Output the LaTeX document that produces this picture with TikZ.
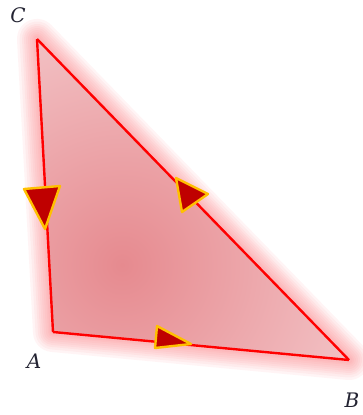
\documentclass[tikz,border=0pt]{standalone}
\usepackage{fontspec}
\newfontfamily\lblfont{DejaVu Serif}
\usetikzlibrary{calc}
\begin{document}
\begin{tikzpicture}[x=1pt,y=-1pt,
  edge/.style={draw=red,line width=2.4pt,line join=miter},
  glow/.style={draw={rgb,255:red,250;green,120;blue,125},line join=round,line cap=round,opacity=0.08},
  arrowhead/.style={fill=red!75!black,draw={rgb,255:red,255;green,192;blue,0},line width=2.4pt,line join=round},
  lbl/.style={font=\lblfont\itshape\fontsize{20}{22}\selectfont,text={rgb,255:red,35;green,35;blue,50}}]
\useasboundingbox (0,0) rectangle (362,415);
\coordinate (C) at (37,39);
\coordinate (A) at (53,332);
\coordinate (B) at (349,360);
% glow
\foreach \w in {40,35,30,26,22,18,14,10,7} {
  \path[glow,line width=\w pt] (C) -- (A) -- (B) -- cycle;
}
% shaded fill
\begin{scope}
  \clip (C) -- (A) -- (B) -- cycle;
  \fill[white] (0,0) rectangle (362,415);
  \shade[inner color={rgb,255:red,230;green,138;blue,143},outer color={rgb,255:red,250;green,228;blue,230}] (122,265) circle (400);
\end{scope}
\draw[edge] (C) -- (A);
\draw[edge] (A) -- (B);
\draw[edge] (B) -- (C);
% arrowheads
\draw[arrowhead] (24,189) -- (60,186) -- (45,229) -- cycle;
\draw[arrowhead] (176,178) -- (182,212) -- (208,194) -- cycle;
\draw[arrowhead] (157,326) -- (155,348) -- (191,344) -- cycle;
% labels
\node[lbl] (lC) at (18,15) {C};
\node[lbl] (lA) at (34,361) {A};
\node[lbl] (lB) at (352,400) {B};
\end{tikzpicture}
\end{document}
